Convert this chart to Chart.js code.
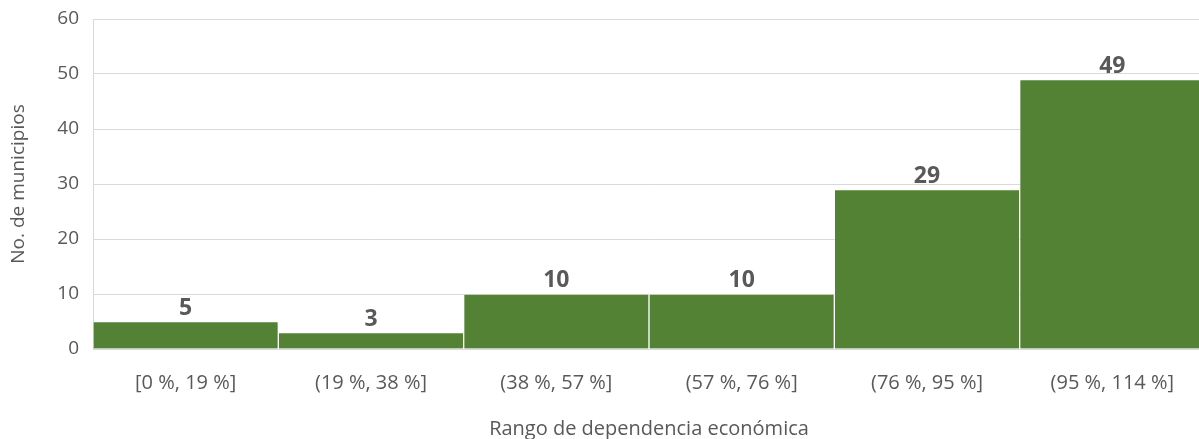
<!DOCTYPE html>
<html>
<head>
  <meta charset="utf-8">
  <title>Rango de dependencia económica</title>
  <style>
    body {
      margin: 0;
      padding: 0;
      background-color: #fff;
      overflow: hidden;
    }
    .wrap {
      width: 1205px;
      height: 445px;
    }
  </style>
</head>
<body>
  <div class="wrap">
    <canvas id="histChart"></canvas>
  </div>

<script src="https://cdn.jsdelivr.net/npm/chart.js"></script>
<script>
  // Datos
  const rangos = ['[0 %, 19 %]', '(19 %, 38 %]', '(38 %, 57 %]', '(57 %, 76 %]', '(76 %, 95 %]', '(95 %, 114 %]'];
  const municipios = [5, 3, 10, 10, 29, 49];
  const yTicks = [0, 10, 20, 30, 40, 50, 60];

  const gris = '#595959';
  const fuente = "'Open Sans', 'Noto Sans', sans-serif";

  // Etiquetas de valor encima de cada barra
  const etiquetas = {
    id: 'etiquetas',
    afterDatasetsDraw(chart) {
      const ctx = chart.ctx;
      const meta = chart.getDatasetMeta(0);
      ctx.save();
      ctx.font = 'bold 23px ' + fuente;
      ctx.fillStyle = gris;
      ctx.textAlign = 'center';
      ctx.textBaseline = 'bottom';
      meta.data.forEach((bar, i) => {
        ctx.fillText(municipios[i], bar.x, bar.y - 2);
      });
      ctx.restore();
    }
  };

  new Chart(document.getElementById('histChart'), {
    type: 'bar',
    data: {
      labels: rangos,
      datasets: [{
        data: municipios,
        backgroundColor: '#548235',
        borderColor: 'rgba(255, 255, 255, 0.3)',
        borderWidth: 1,
        barPercentage: 1,
        categoryPercentage: 1
      }]
    },
    options: {
      responsive: true,
      maintainAspectRatio: false,
      animation: false,
      layout: { padding: { top: 19, right: 0, left: 3, bottom: 0 } },
      plugins: {
        legend: { display: false },
        tooltip: { enabled: false }
      },
      scales: {
        x: {
          grid: { display: false, drawTicks: false },
          border: { color: '#d9d9d9', width: 1 },
          ticks: { color: gris, font: { family: fuente, size: 20 }, padding: 22 },
          title: {
            display: true,
            text: 'Rango de dependencia económica',
            color: gris,
            font: { family: fuente, size: 20 },
            padding: { top: 16 }
          },
          afterFit(scale) {
            scale.height = 96;
            scale.paddingLeft = 0;
            scale.paddingRight = 0;
          }
        },
        y: {
          min: 0,
          max: 60,
          afterBuildTicks(scale) { scale.ticks = yTicks.map(v => ({ value: v })); },
          grid: { color: '#d9d9d9', drawTicks: false },
          border: { color: '#d9d9d9', width: 1 },
          ticks: { color: gris, font: { family: fuente, size: 19 }, padding: 14 },
          title: {
            display: true,
            text: 'No. de municipios',
            color: gris,
            font: { family: fuente, size: 19 },
            padding: { bottom: 0 }
          },
          afterFit(scale) {
            scale.width = 90;
            scale.paddingTop = 0;
            scale.paddingBottom = 0;
          }
        }
      }
    },
    plugins: [etiquetas]
  });
</script>
</body>
</html>
